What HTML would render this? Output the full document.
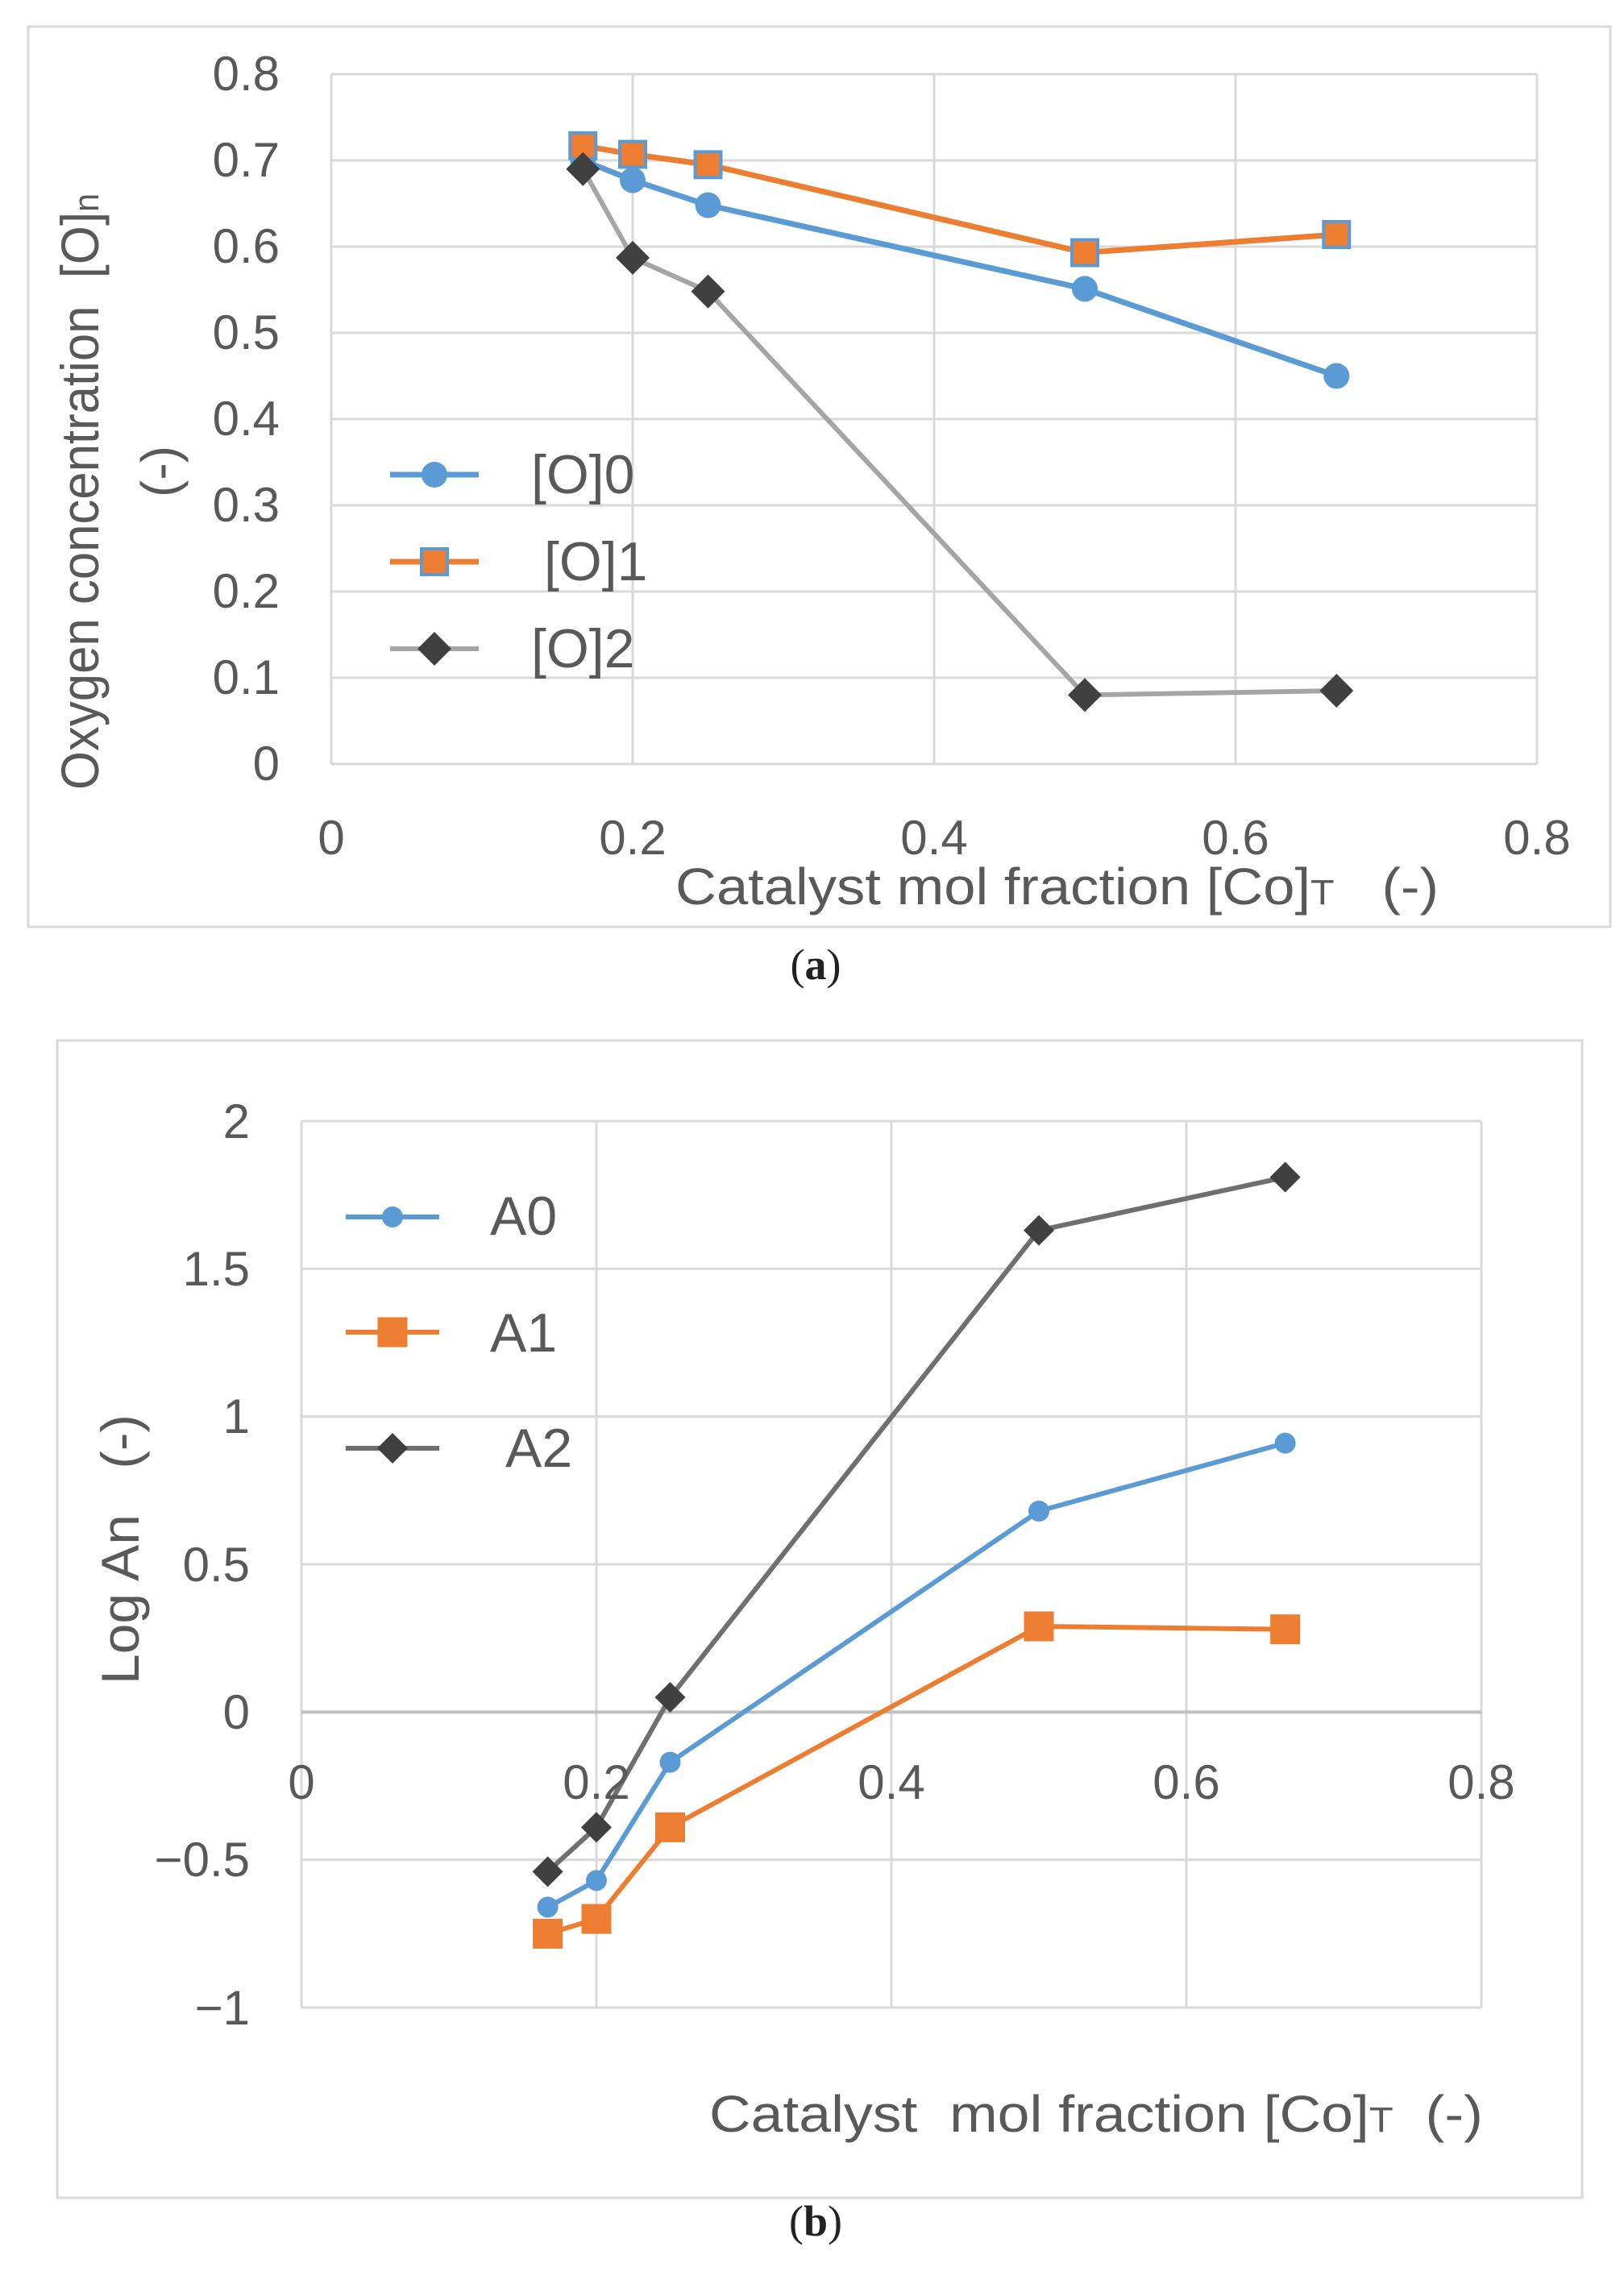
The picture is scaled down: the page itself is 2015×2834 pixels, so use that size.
<!DOCTYPE html>
<html><head><meta charset="utf-8"><style>
html,body{margin:0;padding:0;background:#fff}
svg{display:block}
text{font-family:"Liberation Sans",sans-serif;fill:#595959}
</style></head><body>
<svg id="s" width="2015" height="2834" viewBox="0 0 2015 2834" xmlns="http://www.w3.org/2000/svg">
<rect x="0" y="0" width="2015" height="2834" fill="#fff"/>
<rect x="35" y="33" width="1963" height="1117" fill="none" stroke="#d9d9d9" stroke-width="3"/>
<g id="ga"></g>
<g font-size="60" text-anchor="end">
<text x="347" y="112">0.8</text><text x="347" y="219">0.7</text><text x="347" y="326">0.6</text><text x="347" y="433">0.5</text><text x="347" y="540">0.4</text><text x="347" y="647">0.3</text><text x="347" y="754">0.2</text><text x="347" y="861">0.1</text><text x="347" y="968">0</text>
</g>
<g font-size="60" text-anchor="middle">
<text x="411" y="1060">0</text><text x="785" y="1060">0.2</text><text x="1159" y="1060">0.4</text><text x="1533" y="1060">0.6</text><text x="1907" y="1060">0.8</text>
</g>
<text x="838" y="1122" font-size="64" textLength="947" lengthAdjust="spacingAndGlyphs">Catalyst mol fraction [Co]<tspan font-size="44">T</tspan>&#160;&#160;&#160;(-)</text>
<text transform="translate(122,980) rotate(-90)" font-size="66" textLength="740" lengthAdjust="spacingAndGlyphs">Oxygen concentration&#160;&#160;[O]<tspan font-size="44">n</tspan></text>
<text transform="translate(220,585) rotate(-90)" font-size="64" text-anchor="middle">(-)</text>
<g font-size="68">
<text x="659" y="612">[O]0</text><text x="675" y="720">[O]1</text><text x="659" y="828">[O]2</text>
</g>
<text x="1012" y="1215" font-size="54" style="font-family:'Liberation Serif',serif;fill:#222" text-anchor="middle">(<tspan font-weight="bold">a</tspan>)</text>

<rect x="71" y="1291" width="1892" height="1436" fill="none" stroke="#d9d9d9" stroke-width="3"/>
<g id="gb"></g>
<g font-size="60" text-anchor="end">
<text x="310" y="1412">2</text><text x="310" y="1595">1.5</text><text x="310" y="1778">1</text><text x="310" y="1962">0.5</text><text x="310" y="2145">0</text><text x="310" y="2328">−0.5</text><text x="310" y="2512">−1</text>
</g>
<g font-size="60" text-anchor="middle">
<text x="374" y="2232">0</text><text x="740" y="2232">0.2</text><text x="1106" y="2232">0.4</text><text x="1472" y="2232">0.6</text><text x="1838" y="2232">0.8</text>
</g>
<text x="880" y="2645" font-size="64" textLength="960" lengthAdjust="spacingAndGlyphs">Catalyst&#160;&#160;mol fraction [Co]<tspan font-size="44">T</tspan>&#160;&#160;(-)</text>
<text transform="translate(172,2090) rotate(-90)" font-size="66" textLength="335" lengthAdjust="spacingAndGlyphs">Log An&#160;&#160;&#160;(-)</text>
<g font-size="68">
<text x="608" y="1532">A0</text><text x="608" y="1677">A1</text><text x="627" y="1820">A2</text>
</g>
<text x="1012" y="2774" font-size="54" style="font-family:'Liberation Serif',serif;fill:#222" text-anchor="middle">(<tspan font-weight="bold">b</tspan>)</text>
</svg>
<script>
var NS="http://www.w3.org/2000/svg";
function el(g,t,a){var e=document.createElementNS(NS,t);for(var k in a)e.setAttribute(k,a[k]);g.appendChild(e);return e;}
function marker(g,type,x,y,fill,stroke,s){
 if(type=="c")el(g,"circle",{cx:x,cy:y,r:s/2,fill:fill});
 else if(type=="s")el(g,"rect",{x:x-s/2,y:y-s/2,width:s,height:s,fill:fill,stroke:stroke||"none","stroke-width":stroke?4:0});
 else el(g,"polygon",{points:(x)+","+(y-s/2)+" "+(x+s/2)+","+y+" "+x+","+(y+s/2)+" "+(x-s/2)+","+y,fill:fill});
}
function chart(id,L,R,T,B,ymin,ymax,ystep,xgrid,series,leg){
 var g=document.getElementById(id);
 function X(v){return L+(R-L)*v/0.8}
 function Y(v){return B-(B-T)*(v-ymin)/(ymax-ymin)}
 for(var v=ymin;v<=ymax+1e-9;v+=ystep)el(g,"line",{x1:L,x2:R,y1:Y(v),y2:Y(v),stroke:"#d9d9d9","stroke-width":3});
 for(var i=0;i<=4;i++)el(g,"line",{x1:X(i*0.2),x2:X(i*0.2),y1:T,y2:B,stroke:"#d9d9d9","stroke-width":3});
 if(ymin<0)el(g,"line",{x1:L,x2:R,y1:Y(0),y2:Y(0),stroke:"#bfbfbf","stroke-width":4});
 series.forEach(function(s,k){
  var pts=s.d.map(function(p){return X(p[0])+","+Y(p[1])}).join(" ");
  el(g,"polyline",{points:pts,fill:"none",stroke:s.lc,"stroke-width":s.lw});
  s.d.forEach(function(p){marker(g,s.m,X(p[0]),Y(p[1]),s.mc,s.ms,s.sz)});
  var ly=leg.y[k];
  el(g,"line",{x1:leg.x1,x2:leg.x2,y1:ly,y2:ly,stroke:s.lc,"stroke-width":s.lw});
  marker(g,s.m,(leg.x1+leg.x2)/2,ly,s.mc,s.ms,s.lsz||s.sz);
 });
}
chart("ga",411,1907,92,948,0,0.8,0.1,true,[
 {d:[[0.167,0.70],[0.2,0.677],[0.25,0.648],[0.5,0.551],[0.667,0.45]],lc:"#5b9bd5",lw:7,m:"c",mc:"#5b9bd5",sz:32},
 {d:[[0.167,0.717],[0.2,0.707],[0.25,0.695],[0.5,0.593],[0.667,0.614]],lc:"#ed7d31",lw:7,m:"s",mc:"#ed7d31",ms:"#5b9bd5",sz:32},
 {d:[[0.167,0.69],[0.2,0.587],[0.25,0.548],[0.5,0.08],[0.667,0.085]],lc:"#a5a5a5",lw:6,m:"d",mc:"#404040",sz:42}
],{x1:484,x2:594,y:[589,697,805]});
chart("gb",374,1838,1391,2491,-1,2,0.5,true,[
 {d:[[0.167,-0.66],[0.2,-0.57],[0.25,-0.17],[0.5,0.68],[0.667,0.91]],lc:"#5b9bd5",lw:6,m:"c",mc:"#5b9bd5",sz:26},
 {d:[[0.167,-0.75],[0.2,-0.70],[0.25,-0.39],[0.5,0.29],[0.667,0.28]],lc:"#ed7d31",lw:6,m:"s",mc:"#ed7d31",sz:37},
 {d:[[0.167,-0.54],[0.2,-0.39],[0.25,0.05],[0.5,1.63],[0.667,1.81]],lc:"#6f6f6f",lw:6,m:"d",mc:"#404040",sz:38}
],{x1:429,x2:545,y:[1510,1653,1797]});
</script>
</body></html>
